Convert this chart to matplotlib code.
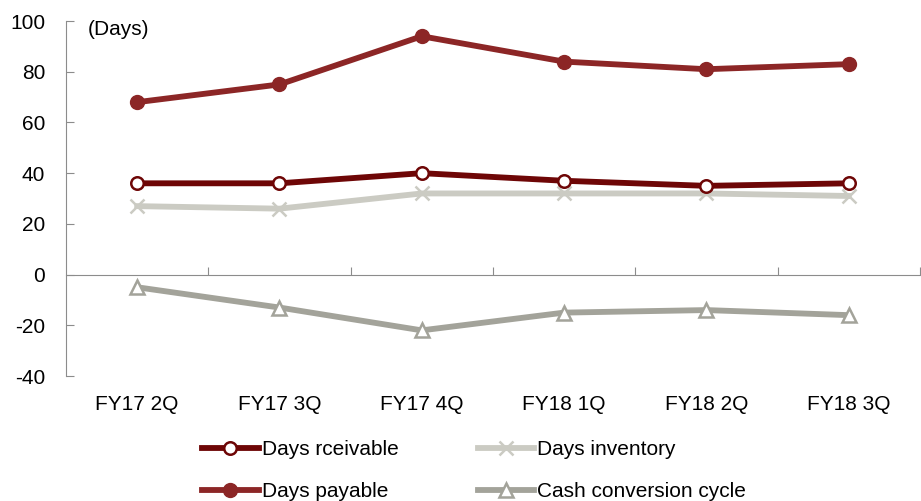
import matplotlib
matplotlib.use("Agg")
import matplotlib.pyplot as plt
import matplotlib.transforms as mtransforms

plt.rcParams['font.family'] = ['Liberation Sans', 'DejaVu Sans']
plt.rcParams['axes.unicode_minus'] = False

quarters = ['FY17 2Q', 'FY17 3Q', 'FY17 4Q', 'FY18 1Q', 'FY18 2Q', 'FY18 3Q']
days_receivable = [36, 36, 40, 37, 35, 36]
days_payable = [68, 75, 94, 84, 81, 83]
days_inventory = [27, 26, 32, 32, 32, 31]
cash_cycle = [-5, -13, -22, -15, -14, -16]

fs = 15
axis_grey = '#8c8c8c'

fig = plt.figure(figsize=(9.21, 5.01), dpi=100)
ax = fig.add_axes([0.0717, 0.2495, 0.927, 0.7085])

x = list(range(len(quarters)))
lw = 4.2
h1, = ax.plot(x, days_receivable, color='#6e0606', lw=lw, marker='o', ms=9,
              mfc='white', mec='#6e0606', mew=1.8, label='Days rceivable', zorder=4)
h2, = ax.plot(x, days_payable, color='#8c2626', lw=lw, marker='o', ms=10,
              mfc='#8c2626', mec='#8c2626', label='Days payable', zorder=4)
h3, = ax.plot(x, days_inventory, color='#cbcbc3', lw=lw, marker='x', ms=10,
              mew=1.8, mec='#cbcbc3', label='Days inventory', zorder=3)
h4, = ax.plot(x, cash_cycle, color='#a3a39a', lw=lw, marker='^', ms=10,
              mfc='white', mec='#a3a39a', mew=1.8, label='Cash conversion cycle', zorder=3)

ax.set_xlim(-0.5, len(quarters) - 0.5)
ax.set_ylim(-40, 100)
ax.set_yticks(range(-40, 101, 20))
ax.tick_params(axis='y', direction='in', length=6, color=axis_grey, labelsize=fs, pad=15)

# x axis sits on the zero line, category ticks point upward between quarters
ax.spines['bottom'].set_position(('data', 0))
ax.spines['bottom'].set_color(axis_grey)
ax.spines['left'].set_color(axis_grey)
ax.spines['top'].set_visible(False)
ax.spines['right'].set_visible(False)
ax.set_xticks([i + 0.5 for i in range(len(quarters))])
ax.set_xticklabels([])
ax.tick_params(axis='x', direction='in', length=6, color=axis_grey)

trans = mtransforms.blended_transform_factory(ax.transData, ax.transAxes)
for i, q in enumerate(quarters):
    ax.text(i, -0.08, q, transform=trans, ha='center', va='center', fontsize=fs)

ax.text(0.025, 0.975, '(Days)', transform=ax.transAxes, ha='left', va='center', fontsize=fs)

fig.legend(handles=[h1, h2, h3, h4], ncol=2, loc='center',
           bbox_to_anchor=(0.5147, 0.06), frameon=False, fontsize=fs,
           handlelength=2.7, handletextpad=0.15, columnspacing=3.8, labelspacing=1.1)

fig.savefig('out.png', dpi=100)
